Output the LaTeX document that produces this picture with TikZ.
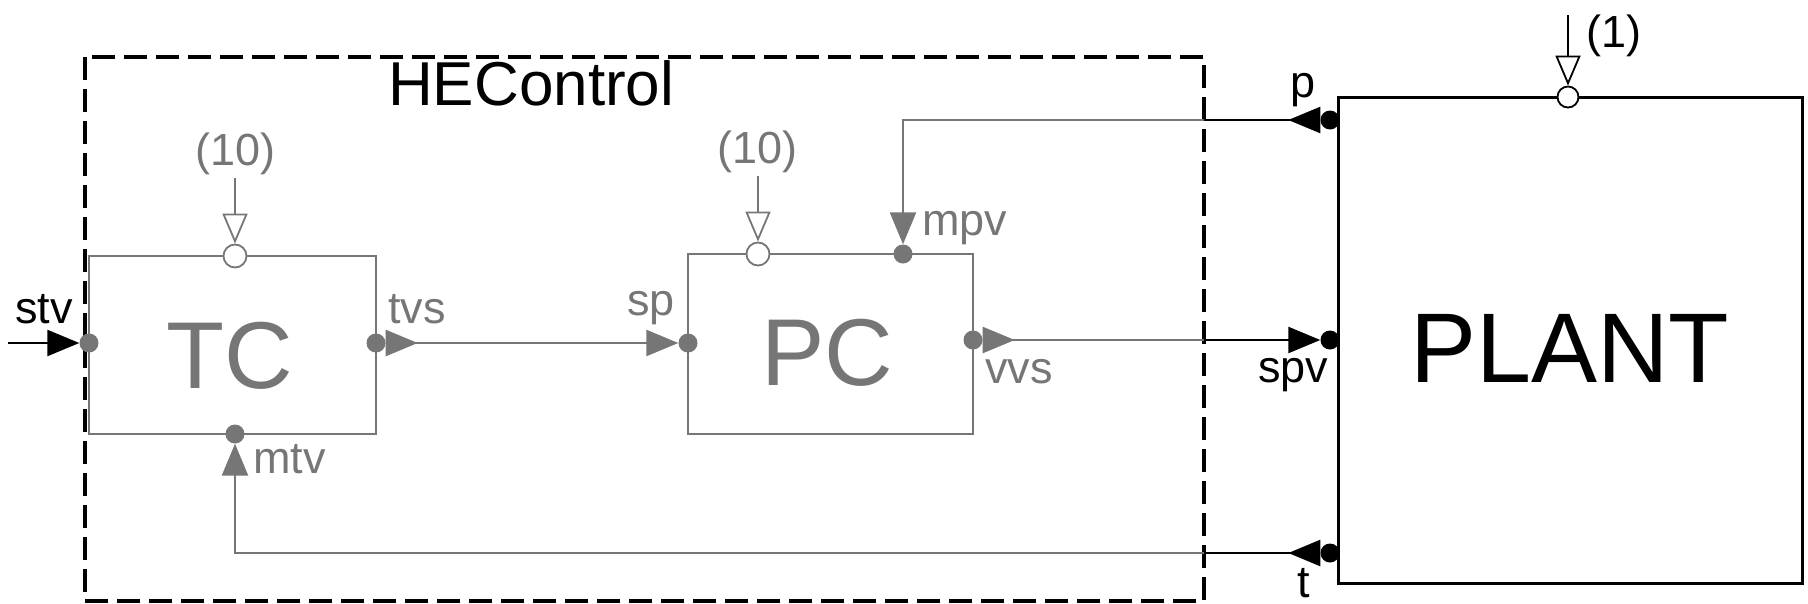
\documentclass[tikz,border=0pt]{standalone}
\usepackage{fontspec}
\setmainfont{Liberation Sans}
\usetikzlibrary{arrows.meta}
\definecolor{gcol}{RGB}{118,118,118}
\tikzset{
  gbox/.style={draw=gcol, line width=2.5pt, inner sep=0pt},
  bbox/.style={draw=black, line width=3pt, inner sep=0pt},
  gdot/.style={circle, fill=gcol, inner sep=0pt, minimum size=19pt},
  bdot/.style={circle, fill=black, inner sep=0pt, minimum size=19pt},
  gcirc/.style={circle, draw=gcol, fill=white, line width=1.8pt, inner sep=0pt, minimum size=23pt},
  bcirc/.style={circle, draw=black, fill=white, line width=1.8pt, inner sep=0pt, minimum size=21pt},
  gline/.style={draw=gcol, line width=2.5pt},
  bline/.style={draw=black, line width=2.5pt},
  gthin/.style={draw=gcol, line width=2pt},
  bthin/.style={draw=black, line width=2pt},
  fwd/.style={-{Triangle[length=32pt,width=26pt]}},
  outstart/.style={{Triangle[length=32pt,width=26pt,reversed]}-},
  bothfwd/.style={{Triangle[length=32pt,width=26pt,reversed]}-{Triangle[length=32pt,width=26pt]}},
  ofwd/.style={-{Triangle[open,length=30pt,width=25pt,line width=1.8pt]}},
  lbl/.style={inner sep=0pt, anchor=base west, font=\fontsize{45}{45}\selectfont},
  big/.style={inner sep=0pt, anchor=base west, font=\fontsize{95}{95}\selectfont},
  head/.style={inner sep=0pt, anchor=base west, font=\fontsize{62}{62}\selectfont},
  dashbox/.style={draw=black, line width=3.5pt, dash pattern=on 23pt off 9pt}
}
\begin{document}
\begin{tikzpicture}[x=1pt,y=-1pt]
\useasboundingbox (0,0) rectangle (1808,603);

% boxes
\node[gbox, minimum width=287pt, minimum height=178pt] (tc) at (232.5,345) {};
\node[gbox, minimum width=285pt, minimum height=180pt] (pc) at (830.5,344) {};
\node[bbox, minimum width=464pt, minimum height=486pt] (plant) at (1570,340) {};
\draw[dashbox] (85,57) rectangle (1204,601);

% coordinates
\coordinate (stvsrc) at (8,343);
\coordinate (tcsrc) at (235,178);
\coordinate (pcsrc) at (758,176);
\coordinate (plsrc) at (1568,15);
\coordinate (pcross) at (1204,120);
\coordinate (vcross) at (1204,340);
\coordinate (tcross) at (1204,553);

% ports
\node[gdot] (stvdot) at (89,343) {};
\node[gdot] (tvsdot) at (376,343) {};
\node[gdot] (spdot) at (688,343) {};
\node[gdot] (vvsdot) at (973,340) {};
\node[gdot] (mpvdot) at (903,254) {};
\node[gdot] (mtvdot) at (235,434) {};
\node[gcirc] (tcctl) at (235,256) {};
\node[gcirc] (pcctl) at (758,254) {};
\node[bdot] (pdot) at (1330,120) {};
\node[bdot] (spvdot) at (1330,340) {};
\node[bdot] (tdot) at (1330,553) {};
\node[bcirc] (plctl) at (1568,97) {};

% connectors
\draw[bline, fwd] (stvsrc) -- (stvdot);
\draw[gline, bothfwd] (tvsdot) -- (spdot);
\draw[bline, outstart] (pdot) -- (pcross);
\draw[gline, fwd] (pcross) -| (mpvdot);
\draw[gline, outstart] (vvsdot) -- (vcross);
\draw[bline, fwd] (vcross) -- (spvdot);
\draw[bline, outstart] (tdot) -- (tcross);
\draw[gline, fwd] (tcross) -| (mtvdot);
\draw[gthin, ofwd] (tcsrc) -- (tcctl);
\draw[gthin, ofwd] (pcsrc) -- (pcctl);
\draw[bthin, ofwd] (plsrc) -- (plctl);

% labels
\node[lbl, text=black] (stvl) at (15,323) {stv};
\node[lbl, text=gcol] (tvsl) at (388,323) {tvs};
\node[lbl, text=gcol] (spl) at (627,315) {sp};
\node[lbl, text=gcol] (mpvl) at (922,235) {mpv};
\node[lbl, text=gcol] (vvsl) at (985,383) {vvs};
\node[lbl, text=gcol] (mtvl) at (253,473) {mtv};
\node[lbl, text=black] (pl) at (1290,97) {p};
\node[lbl, text=black] (spvl) at (1258,382) {spv};
\node[lbl, text=black] (tl) at (1297,597) {t};
\node[lbl, text=black] (plctll) at (1586,47) {(1)};
\node[lbl, text=gcol] (tcctll) at (195,165) {(10)};
\node[lbl, text=gcol] (pcctll) at (717,163) {(10)};
\node[big, text=gcol] (tct) at (166,388) {TC};
\node[big, text=gcol] (pct) at (761,385) {PC};
\node[big, text=black, font=\fontsize{99}{99}\selectfont] (plt) at (1410,382) {PLANT};
\node[head, text=black] (hel) at (388,105) {HEControl};
\end{tikzpicture}
\end{document}
